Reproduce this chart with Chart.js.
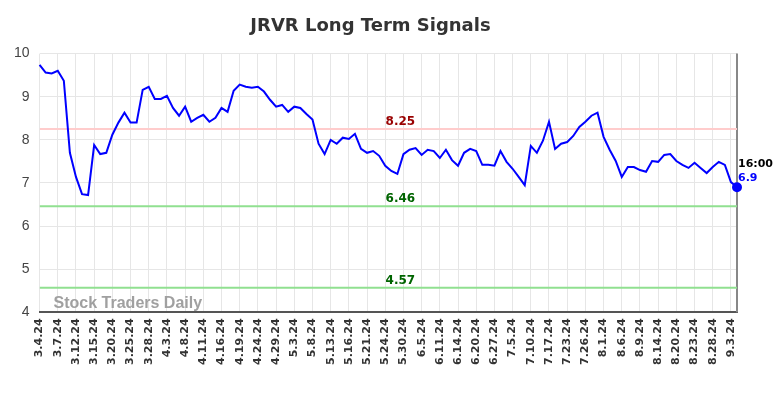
<!DOCTYPE html>
<html>
<head>
<meta charset="utf-8">
<script src="https://cdn.jsdelivr.net/npm/chart.js@4.4.1/dist/chart.umd.min.js"></script>
<style>
  html, body { margin: 0; padding: 0; background: #fff; }
  #wrap { width: 784px; height: 398px; }
</style>
</head>
<body>
<div id="wrap"><canvas id="chart" width="784" height="398"></canvas></div>
<script>
var tickLabels = ['3.4.24', '3.7.24', '3.12.24', '3.15.24', '3.20.24', '3.25.24', '3.28.24', '4.3.24',
  '4.8.24', '4.11.24', '4.16.24', '4.19.24', '4.24.24', '4.29.24', '5.3.24', '5.8.24', '5.13.24',
  '5.16.24', '5.21.24', '5.24.24', '5.30.24', '6.5.24', '6.11.24', '6.14.24', '6.20.24', '6.27.24',
  '7.5.24', '7.10.24', '7.17.24', '7.23.24', '7.26.24', '8.1.24', '8.6.24', '8.9.24', '8.14.24',
  '8.20.24', '8.23.24', '8.28.24', '9.3.24'];

var prices = [
  9.74, 9.56, 9.54, 9.60, 9.37, 7.70, 7.14, 6.74, 6.72, 7.88,
  7.67, 7.70, 8.12, 8.40, 8.63, 8.40, 8.40, 9.16, 9.23, 8.95,
  8.95, 9.02, 8.74, 8.56, 8.77, 8.42, 8.51, 8.58, 8.42, 8.51,
  8.74, 8.65, 9.14, 9.28, 9.23, 9.21, 9.23, 9.12, 8.93, 8.77,
  8.81, 8.65, 8.77, 8.74, 8.60, 8.47, 7.91, 7.67, 8.00, 7.91,
  8.05, 8.02, 8.14, 7.79, 7.70, 7.74, 7.63, 7.40, 7.28, 7.21,
  7.67, 7.77, 7.81, 7.65, 7.77, 7.74, 7.58, 7.77, 7.53, 7.40,
  7.70, 7.79, 7.74, 7.42, 7.42, 7.40, 7.74, 7.49, 7.33, 7.14,
  6.95, 7.86, 7.70, 7.98, 8.42, 7.79, 7.91, 7.95, 8.09, 8.30,
  8.42, 8.56, 8.63, 8.07, 7.77, 7.51, 7.14, 7.37, 7.37, 7.30,
  7.26, 7.51, 7.49, 7.65, 7.67, 7.51, 7.42, 7.35, 7.47, 7.35,
  7.23, 7.37, 7.49, 7.42, 7.02, 6.90
];

var levelValues = [8.25, 6.46, 4.57];
var levelLineColors = ['#ffcccc', '#90e090', '#90e090'];
var levelTextColors = ['#990000', '#006400', '#006400'];
var lastTime = '16:00';
var tickStep = 3;

var last = prices.length - 1;
var points = prices.map(function(v, i) { return { x: i, y: v }; });

var datasets = [{
  data: points,
  borderColor: '#0000ff',
  backgroundColor: '#0000ff',
  borderWidth: 2,
  tension: 0,
  order: 0,
  clip: false,
  pointRadius: function(ctx) { return ctx.dataIndex === last ? 4 : 0; },
  pointHoverRadius: 0
}];
levelValues.forEach(function(lv, k) {
  datasets.push({
    data: [{ x: 0, y: lv }, { x: last, y: lv }],
    borderColor: levelLineColors[k],
    borderWidth: 2,
    pointRadius: 0,
    order: 1
  });
});

// right border under the lines, captions / watermark / last value on top
var extras = {
  id: 'extras',
  beforeDatasetsDraw: function(chart) {
    var c = chart.ctx, area = chart.chartArea;
    c.save();
    c.strokeStyle = '#888';
    c.lineWidth = 2;
    c.beginPath();
    c.moveTo(area.right, area.top);
    c.lineTo(area.right, area.bottom);
    c.stroke();
    c.restore();
  },
  afterDatasetsDraw: function(chart) {
    var c = chart.ctx, xs = chart.scales.x, ys = chart.scales.y, area = chart.chartArea;
    c.save();
    c.font = 'bold 12px "DejaVu Sans"';
    c.textAlign = 'center';
    c.textBaseline = 'bottom';
    var midX = xs.getPixelForValue(59.5);
    levelValues.forEach(function(lv, k) {
      c.fillStyle = levelTextColors[k];
      c.fillText(lv.toFixed(2), midX, ys.getPixelForValue(lv) - 1);
    });

    c.font = 'bold 16px "Liberation Sans"';
    c.fillStyle = '#a0a0a0';
    c.textAlign = 'left';
    c.textBaseline = 'alphabetic';
    c.fillText('Stock Traders Daily', area.left + 14, area.bottom - 4);

    var px = xs.getPixelForValue(last), py = ys.getPixelForValue(prices[last]);
    c.font = 'bold 11px "DejaVu Sans"';
    c.fillStyle = '#000';
    c.fillText(lastTime, px + 1, py - 20);
    c.fillStyle = '#0000ff';
    c.fillText(String(prices[last]), px + 1, py - 6);
    c.restore();
  }
};

new Chart(document.getElementById('chart'), {
  type: 'line',
  data: { datasets: datasets },
  plugins: [extras],
  options: {
    responsive: false,
    animation: false,
    layout: { padding: { left: 4, right: 47, top: 0, bottom: 27 } },
    plugins: {
      legend: { display: false },
      tooltip: { enabled: false },
      title: {
        display: true,
        text: 'JRVR Long Term Signals',
        color: '#333',
        font: { family: 'DejaVu Sans', size: 18, weight: 'bold' },
        padding: { top: 16, bottom: 16 }
      }
    },
    scales: {
      x: {
        type: 'linear',
        min: 0,
        max: last,
        afterBuildTicks: function(axis) {
          axis.ticks = tickLabels.map(function(t, i) { return { value: i * tickStep }; });
        },
        ticks: {
          autoSkip: false,
          minRotation: 90,
          maxRotation: 90,
          padding: 6,
          color: '#333',
          font: { family: 'DejaVu Sans', size: 11, weight: 'bold' },
          callback: function(v) { return tickLabels[Math.round(v / tickStep)]; }
        },
        grid: { color: '#e6e6e6', drawTicks: false },
        border: { color: '#555', width: 2 }
      },
      y: {
        min: 4,
        max: 10,
        ticks: {
          stepSize: 1,
          padding: 10,
          color: '#444',
          font: { family: 'Liberation Sans', size: 14 }
        },
        grid: { color: '#e6e6e6', drawTicks: false },
        border: { display: false }
      }
    }
  }
});
</script>
</body>
</html>
